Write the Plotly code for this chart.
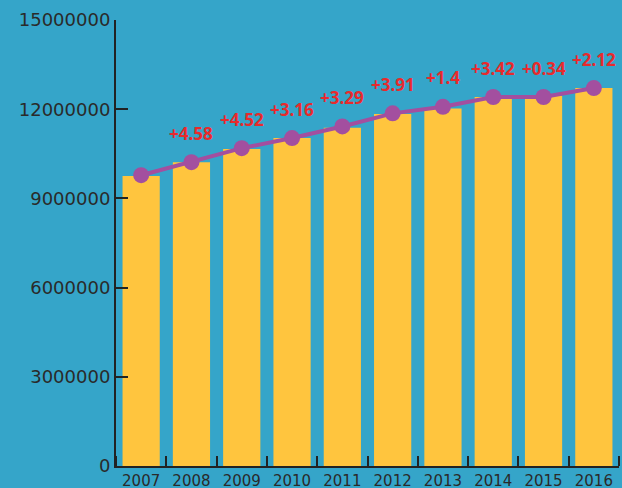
import plotly.graph_objects as go

years = ["2007", "2008", "2009", "2010", "2011", "2012", "2013", "2014", "2015", "2016"]
bar_values = [9750000, 10220000, 10660000, 11030000, 11380000, 11840000, 12020000, 12410000, 12440000, 12710000]
line_values = [9780000, 10220000, 10690000, 11030000, 11420000, 11860000, 12080000, 12410000, 12410000, 12710000]
growth_labels = ["", "+4.58", "+4.52", "+3.16", "+3.29", "+3.91", "+1.4", "+3.42", "+0.34", "+2.12"]
y_ticks = [0, 3000000, 6000000, 9000000, 12000000, 15000000]

BG = "#35a5c9"
AXIS = "#222222"

xs = list(range(len(years)))

fig = go.Figure()
fig.add_trace(go.Bar(x=xs, y=bar_values, width=0.74, marker=dict(color="#ffc53e", line=dict(width=0)),
                     hoverinfo="skip"))
fig.add_trace(go.Scatter(x=xs, y=line_values, mode="lines+markers",
                         line=dict(color="#a34f9f", width=4),
                         marker=dict(color="#a34f9f", size=16)))

for xi, v, lab in zip(xs, line_values, growth_labels):
    if lab:
        fig.add_annotation(x=xi, y=v, text="<b>" + lab + "</b>", showarrow=False, yanchor="middle",
                           yshift=29, font=dict(family="Open Sans", size=17, color="#e82a2c"))

fig.update_layout(
    width=622, height=488,
    paper_bgcolor=BG, plot_bgcolor=BG,
    margin=dict(l=116, r=3, t=20, b=22),
    showlegend=False,
    font=dict(family="DejaVu Sans", color="#2a2a2a"),
)
fig.update_xaxes(range=[-0.5, len(years) - 0.5], tickmode="array", tickvals=xs, ticktext=years,
                 showgrid=False, showline=True, linecolor=AXIS, linewidth=2, ticks="",
                 minor=dict(tick0=0.5, dtick=1, ticks="inside", ticklen=10, tickwidth=2,
                            tickcolor=AXIS, showgrid=False),
                 tickfont=dict(size=15, color="#2a2a2a"), automargin=False, zeroline=False)
fig.update_yaxes(range=[0, 15000000], tickmode="array", tickvals=y_ticks, tickformat="d", showgrid=False,
                 showline=True, linecolor=AXIS, linewidth=2, ticks="inside", ticklen=12,
                 tickwidth=2, tickcolor=AXIS, tickfont=dict(size=18, color="#2a2a2a"),
                 automargin=False, zeroline=False)

fig.write_html("out.html", config={"displayModeBar": False},
               post_script="document.body.style.margin='0';")
